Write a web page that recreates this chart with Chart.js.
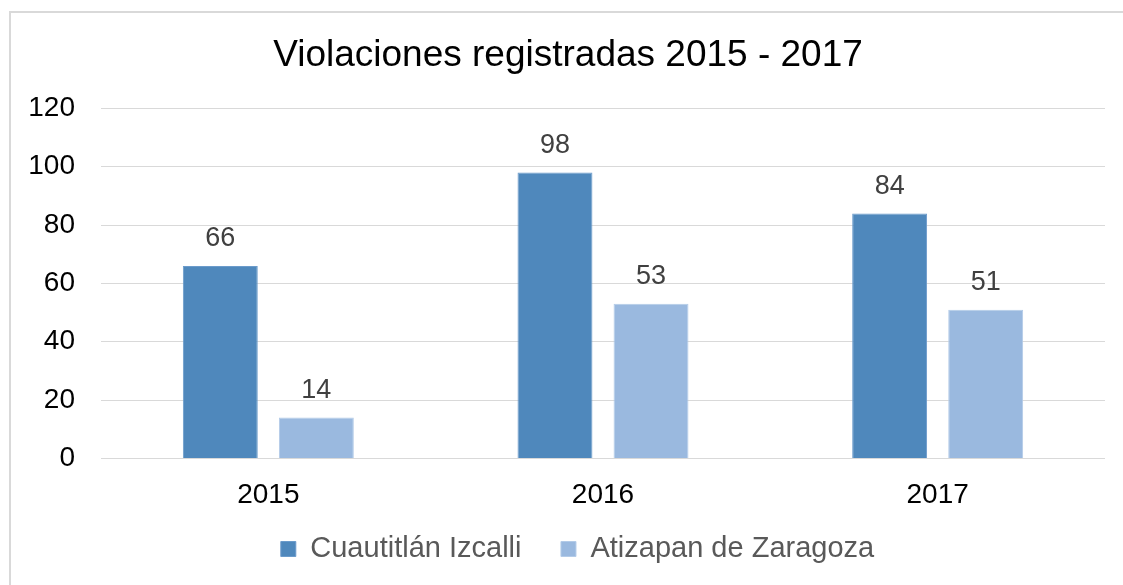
<!DOCTYPE html>
<html><head><meta charset="utf-8">
<script src="https://cdn.jsdelivr.net/npm/chart.js@4"></script>
<style>html,body{margin:0;padding:0;background:#fff;}#wrap{width:1123px;height:585px;position:relative;}</style>
</head><body><div id="wrap"><canvas id="c" width="1123" height="585"></canvas></div>
<script>
const categories = ['2015', '2016', '2017'];
const seriesNames = ['Cuautitlán Izcalli', 'Atizapan de Zaragoza'];
const cuautitlan = [66, 98, 84];
const atizapan = [14, 53, 51];
const yTicks = [0, 20, 40, 60, 80, 100, 120];

const FONT = '"Liberation Sans", Arial, sans-serif';

const borderPlugin = {
  id: 'outerBorder',
  beforeDraw(chart) {
    const ctx = chart.ctx;
    ctx.save();
    ctx.fillStyle = '#fff';
    ctx.fillRect(0, 0, chart.width, chart.height);
    ctx.strokeStyle = '#d9d9d9';
    ctx.lineWidth = 2;
    ctx.strokeRect(10, 12, chart.width + 20, chart.height + 20);
    ctx.restore();
  }
};

// nudge title and legend blocks horizontally / vertically after layout
const shiftPlugin = {
  id: 'shiftBlocks',
  afterLayout(chart) {
    const t = chart.titleBlock;
    if (t) { t.left += 31; }
    const l = chart.legend;
    if (l) {
      l.left += 50;
      l.top -= 37;
      l.height = 90;
      l.bottom = l.top + l.height;
    }
  }
};

const labelPlugin = {
  id: 'valueLabels',
  afterDatasetsDraw(chart) {
    const ctx = chart.ctx;
    ctx.save();
    ctx.font = '27px ' + FONT;
    ctx.fillStyle = '#404040';
    ctx.textAlign = 'center';
    ctx.textBaseline = 'middle';
    chart.data.datasets.forEach((ds, i) => {
      chart.getDatasetMeta(i).data.forEach((bar, j) => {
        ctx.fillText(String(ds.data[j]), bar.x, bar.y - 27);
      });
    });
    ctx.restore();
  }
};

new Chart(document.getElementById('c'), {
  type: 'bar',
  data: {
    labels: categories,
    datasets: [
      { label: seriesNames[0], data: cuautitlan, backgroundColor: '#4f88bc', borderColor: '#6b9bcb', borderWidth: 1,
        categoryPercentage: 0.574, barPercentage: 0.78 },
      { label: seriesNames[1], data: atizapan, backgroundColor: '#9ab9df', borderColor: '#b3cbe8', borderWidth: 1,
        categoryPercentage: 0.574, barPercentage: 0.78 }
    ]
  },
  options: {
    responsive: false,
    animation: false,
    devicePixelRatio: 1,
    layout: { padding: { left: 0, right: 18, top: 0, bottom: 0 } },
    plugins: {
      title: {
        display: true,
        text: 'Violaciones registradas 2015 - 2017',
        color: '#000',
        font: { family: FONT, size: 37, weight: 'normal' },
        padding: { top: 34, bottom: 30 }
      },
      legend: {
        position: 'bottom',
        maxHeight: 53,
        labels: {
          color: '#595959',
          font: { family: FONT, size: 29 },
          boxWidth: 15, boxHeight: 15, padding: 39.5
        }
      },
      tooltip: { enabled: false }
    },
    scales: {
      x: {
        grid: { display: false, drawTicks: false },
        border: { display: false },
        ticks: { color: '#000', font: { family: FONT, size: 28 }, padding: 20 }
      },
      y: {
        min: 0, max: 120,
        afterBuildTicks(axis) { axis.ticks = yTicks.map(v => ({ value: v })); },
        afterFit(axis) { axis.width = 101; },
        grid: { color: '#d9d9d9', lineWidth: 1, drawTicks: false },
        border: { display: false },
        ticks: { color: '#000', font: { family: FONT, size: 28 }, padding: 26 }
      }
    }
  },
  plugins: [borderPlugin, shiftPlugin, labelPlugin]
});
</script></body></html>
